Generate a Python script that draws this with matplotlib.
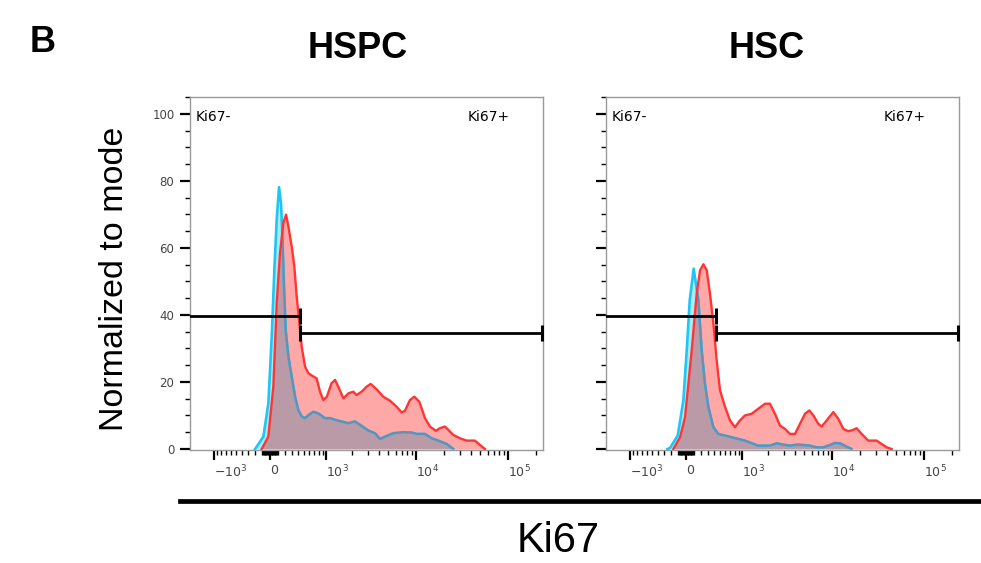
import matplotlib
matplotlib.use("Agg")
import matplotlib.pyplot as plt
from matplotlib import font_manager
from matplotlib.lines import Line2D

# Ki67 intensity (x) and % of mode (y) for each histogram
hspc_blue_x = [-200, -176, -87, -22, 22, 56, 87, 118, 145, 163, 186, 209, 247, 296, 347,
               400, 457, 515, 579, 681, 793, 960, 1107, 1270, 1519, 1810, 2140, 2545, 3015,
               3565, 4050, 4795, 5660, 7280, 8980, 10170, 12530, 14800, 17480, 21550, 25420]
hspc_blue_y = [0, 0.7, 3.7, 13.6, 33.5, 53.4, 68.4, 78.1, 73.3, 63.4, 48.5, 35.5, 27.6, 21.6, 15.6,
               11.6, 9.7, 9.2, 10.1, 11.1, 10.6, 9.2, 9.2, 8.7, 8.2, 7.7, 8.2, 6.9, 5.5,
               4.7, 3.0, 3.9, 4.7, 5.0, 4.9, 4.5, 4.5, 3.2, 2.5, 1.5, 0]

hspc_red_x = [-109, -22, 43, 87, 131, 176, 214, 247, 296, 336, 373, 411, 457, 515, 579,
              681, 752, 833, 916, 1014, 1155, 1270, 1385, 1588, 1810, 2054, 2235, 2545, 2890,
              3200, 3725, 4403, 5210, 6160, 6985, 7590, 8600, 9590, 10870, 12530, 14190, 16480,
              18200, 20640, 22460, 25420, 30060, 35500, 43730, 49560, 56160]
hspc_red_y = [0, 3.7, 18.6, 43.5, 58.4, 67.4, 69.9, 66.4, 60.4, 54.4, 45.5, 38.5, 30.5, 24.6, 22.6,
              21.6, 21.1, 17.1, 14.6, 15.6, 19.6, 20.6, 18.6, 15.1, 16.6, 17.1, 16.1, 17.1, 18.6,
              19.4, 17.8, 15.6, 14.4, 12.6, 10.9, 11.4, 14.6, 15.6, 14.1, 9.2, 6.7, 5.4,
              6.2, 6.7, 5.7, 4.2, 3.2, 2.5, 2.5, 1.2, 0]

hsc_blue_x = [-252, -214, -109, -35, 9, 48, 100, 163, 209, 256, 306, 384, 468, 593, 732,
              1075, 1540, 2090, 2480, 2940, 3480, 4120, 4870, 5760, 6810, 8040, 9510, 10780,
              12220, 14430, 16330]
hsc_blue_y = [0, 0.3, 4.0, 14.5, 29.4, 44.4, 53.8, 44.4, 29.4, 19.4, 12.5, 6.5, 4.5, 4.0, 3.5,
              2.5, 1.0, 1.0, 1.7, 1.3, 1.0, 1.3, 1.2, 1.0, 0.5, 0.5, 1.2, 1.8,
              1.7, 0.7, 0]

hsc_red_x = [-168, -78, -13, 74, 140, 186, 233, 281, 331, 384, 439, 497, 593, 695, 808,
             933, 1075, 1290, 1540, 1840, 2090, 2375, 2700, 3070, 3480, 3950, 4480, 5080,
             5660, 6270, 7100, 7720, 8750, 10340, 11720, 13270, 15040, 17040, 18520, 21000,
             24800, 30600, 34600, 39300, 44500]
hsc_red_y = [0, 3.5, 9.5, 29.4, 46.3, 53.3, 55.1, 53.3, 46.3, 37.4, 26.4, 17.5, 12.5, 8.5, 6.5,
             8.5, 10.0, 10.5, 12.0, 13.5, 13.5, 10.5, 7.0, 6.0, 4.5, 4.5, 7.5, 10.5,
             11.5, 10.0, 7.5, 6.7, 8.5, 11.0, 9.0, 6.0, 5.3, 5.7, 6.2, 4.5,
             2.5, 2.5, 1.5, 0.5, 0]

# gates: (start, end, height)
gate_neg = (-1890, 427, 39.7)
gate_pos = (427, 235000, 34.7)

x_major = [-1000, 0, 1000, 10000, 100000]
x_major_labels = ["$-10^{3}$", "0", "$10^{3}$", "$10^{4}$", "$10^{5}$"]
x_minor = ([-v for v in range(100, 1000, 100)] + [-v for v in range(10, 100, 10)]
           + list(range(10, 100, 10)) + list(range(100, 1000, 100))
           + list(range(2000, 10000, 1000)) + list(range(20000, 100000, 10000)) + [200000])

BLUE_LINE = "#1fc6f5"
BLUE_FILL = "#aee9f7"
RED_LINE = "#ff3535"
RED_FILL = "#ffa8a8"
OVERLAP = "#b99aa6"
BLUE_IN_RED = "#6a8db3"

names = {f.name for f in font_manager.fontManager.ttflist}
if "Liberation Sans Narrow" in names:
    title_font, title_size = "Liberation Sans Narrow", 31
else:
    title_font, title_size = "Liberation Sans", 26


def draw_panel(ax, bx, by, rx, ry, show_ylabels):
    ax.set_xscale("asinh", linear_width=520)
    ax.set_xlim(-1890, 240000)
    ax.set_ylim(-0.3, 105)

    blue_fill = ax.fill_between(bx, by, 0, color=BLUE_FILL, lw=0, zorder=1)
    red_fill = ax.fill_between(rx, ry, 0, color=RED_FILL, lw=0, zorder=2)
    overlap = ax.fill_between(rx, ry, 0, color=OVERLAP, lw=0, zorder=3)
    overlap.set_clip_path(blue_fill.get_paths()[0], ax.transData)

    ax.plot(bx, by, color=BLUE_LINE, lw=1.9, zorder=4)
    inner, = ax.plot(bx, by, color=BLUE_IN_RED, lw=1.6, zorder=5)
    inner.set_clip_path(red_fill.get_paths()[0], ax.transData)
    ax.plot(rx, ry, color=RED_LINE, lw=1.7, zorder=6)

    # gates
    ax.plot(gate_neg[:2], [gate_neg[2]] * 2, color="black", lw=2.0, zorder=7)
    ax.plot([gate_neg[1]], [gate_neg[2]], marker="|", ms=11, mew=2.2, color="black", zorder=7)
    ax.plot(gate_pos[:2], [gate_pos[2]] * 2, color="black", lw=2.0, zorder=7)
    ax.plot(gate_pos[:2], [gate_pos[2]] * 2, ls="none", marker="|", ms=11, mew=2.2,
            color="black", zorder=7)

    ax.text(0.016, 0.943, "Ki67-", transform=ax.transAxes, fontsize=10, va="center")
    ax.text(0.786, 0.943, "Ki67+", transform=ax.transAxes, fontsize=10, va="center")

    ax.set_xticks(x_major, labels=x_major_labels)
    ax.set_xticks(x_minor, minor=True)
    ax.set_yticks(range(0, 101, 20))
    ax.set_yticks(range(0, 106, 5), minor=True)
    ax.tick_params(which="major", length=7.2, width=1.6, color="black",
                   labelcolor="#444444")
    ax.tick_params(which="minor", length=3.6, width=1.0, color="black")
    ax.tick_params(axis="x", which="major", labelsize=9, pad=3)
    ax.tick_params(axis="y", which="major", labelleft=show_ylabels, labelsize=8.5, pad=4)
    plt.setp(ax.get_xticklabels(), ha="left")

    for s in ax.spines.values():
        s.set_color("#9a9a9a")
        s.set_linewidth(1.0)


fig = plt.figure(figsize=(9.81, 5.63), dpi=100)
ax1 = fig.add_axes([190 / 981, 1 - 450 / 563, 353 / 981, 353 / 563])
ax2 = fig.add_axes([606 / 981, 1 - 450 / 563, 353 / 981, 353 / 563])

draw_panel(ax1, hspc_blue_x, hspc_blue_y, hspc_red_x, hspc_red_y, True)
draw_panel(ax2, hsc_blue_x, hsc_blue_y, hsc_red_x, hsc_red_y, False)

fig.text(358 / 981, 1 - 49 / 563, "HSPC", ha="center", va="center", fontsize=title_size,
         fontweight="bold", family=[title_font, "DejaVu Sans"])
fig.text(767 / 981, 1 - 49 / 563, "HSC", ha="center", va="center", fontsize=title_size,
         fontweight="bold", family=[title_font, "DejaVu Sans"])
fig.text(43 / 981, 1 - 43 / 563, "B", ha="center", va="center", fontsize=title_size,
         fontweight="bold", family=[title_font, "DejaVu Sans"])

fig.text(115 / 981, 1 - 279 / 563, "Normalized to mode", rotation=90, ha="center",
         va="center", fontsize=24.5, family=["Liberation Sans", "DejaVu Sans"])
fig.text(558 / 981, 1 - 541 / 563, "Ki67", ha="center", va="center", fontsize=30,
         family=["Liberation Sans", "DejaVu Sans"])

fig.add_artist(Line2D([180 / 981, 1.0], [1 - 501 / 563] * 2, color="black", lw=3.4,
                      transform=fig.transFigure))

fig.savefig("out.png", dpi=100)
